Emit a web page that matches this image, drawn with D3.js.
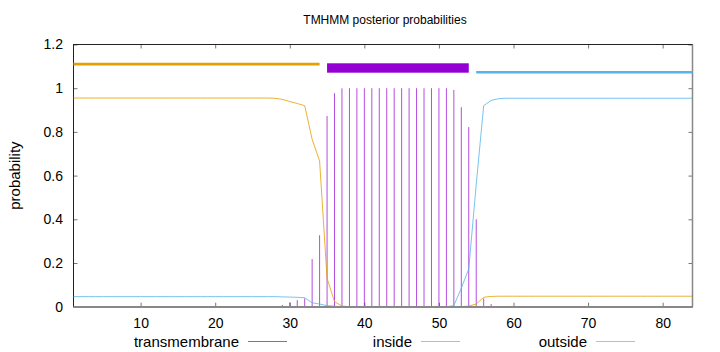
<!DOCTYPE html>
<html>
<head>
<meta charset="utf-8">
<script src="https://cdn.jsdelivr.net/npm/d3@7"></script>
<style>
  body { margin: 0; background: #fff; }
  text { font-family: "Liberation Sans", Arial, sans-serif; fill: #000; }
</style>
</head>
<body>
<div id="chart-area"></div>
<script>
// per-residue posterior probabilities (residues 1..84)
const residues = [
    1, 2, 3, 4, 5, 6, 7, 8, 9, 10, 11, 12, 13, 14, 15, 16, 17, 18, 19, 20,
    21, 22, 23, 24, 25, 26, 27, 28, 29, 30, 31, 32, 33, 34, 35, 36, 37, 38, 39, 40,
    41, 42, 43, 44, 45, 46, 47, 48, 49, 50, 51, 52, 53, 54, 55, 56, 57, 58, 59, 60,
    61, 62, 63, 64, 65, 66, 67, 68, 69, 70, 71, 72, 73, 74, 75, 76, 77, 78, 79, 80,
    81, 82, 83, 84
];

const transmembrane = [
    0, 0, 0, 0, 0, 0, 0, 0, 0, 0, 0, 0, 0, 0, 0, 0, 0, 0, 0, 0,
    0, 0, 0, 0, 0, 0, 0, 0, 0.008, 0.02, 0.03, 0.038, 0.218, 0.327, 0.873, 0.977, 0.999, 1, 1, 1,
    1, 1, 1, 1, 1, 1, 1, 1, 1, 1, 1, 0.992, 0.913, 0.822, 0.40, 0.038, 0.012, 0, 0, 0,
    0, 0, 0, 0, 0, 0, 0, 0, 0, 0, 0, 0, 0, 0, 0, 0, 0, 0, 0, 0,
    0, 0, 0, 0
];

const inside = [
    0.046, 0.046, 0.046, 0.046, 0.046, 0.046, 0.046, 0.046, 0.046, 0.046,
    0.046, 0.046, 0.046, 0.046, 0.046, 0.046, 0.046, 0.046, 0.046, 0.046,
    0.046, 0.046, 0.046, 0.046, 0.046, 0.046, 0.046, 0.046, 0.045, 0.044,
    0.043, 0.041, 0.018, 0.012, 0.005, 0.002, 0, 0, 0, 0,
    0, 0, 0, 0, 0, 0, 0, 0, 0, 0,
    0, 0.005, 0.085, 0.173, 0.56, 0.92, 0.944, 0.952, 0.954, 0.954,
    0.954, 0.954, 0.954, 0.954, 0.954, 0.954, 0.954, 0.954, 0.954, 0.954,
    0.954, 0.954, 0.954, 0.954, 0.954, 0.954, 0.954, 0.954, 0.954, 0.954,
    0.954, 0.954, 0.954, 0.954
];

const outside = [
    0.955, 0.955, 0.955, 0.955, 0.955, 0.955, 0.955, 0.955, 0.955, 0.955,
    0.955, 0.955, 0.955, 0.955, 0.955, 0.955, 0.955, 0.955, 0.955, 0.955,
    0.955, 0.955, 0.955, 0.955, 0.955, 0.955, 0.955, 0.954, 0.949, 0.939,
    0.930, 0.920, 0.766, 0.667, 0.130, 0.023, 0.003, 0, 0, 0,
    0, 0, 0, 0, 0, 0, 0, 0, 0, 0,
    0, 0, 0, 0.003, 0.012, 0.043, 0.047, 0.048, 0.048, 0.048,
    0.048, 0.048, 0.048, 0.048, 0.048, 0.048, 0.048, 0.048, 0.048, 0.048,
    0.048, 0.048, 0.048, 0.048, 0.048, 0.048, 0.048, 0.048, 0.048, 0.048,
    0.048, 0.048, 0.048, 0.048
];

// predicted topology segments
const topoType = ['outside', 'TMhelix', 'inside'];
const topoStart = [1, 35, 55];
const topoEnd = [34, 54, 84];

// ticks
const xTicks = [10, 20, 30, 40, 50, 60, 70, 80];
const yTicks = [0, 0.2, 0.4, 0.6, 0.8, 1, 1.2];

const legendNames = ['transmembrane', 'inside', 'outside'];

const colors = {
    transmembrane: '#9400d3',
    inside: '#56b4e9',
    outside: '#e69f00'
};

// margins
const margin = { left: 73.5, right: 27.5, top: 44.5, bottom: 45.3 };
const W = 720, H = 352;
const width = W - margin.left - margin.right;
const height = H - margin.top - margin.bottom;

const svg = d3.select('#chart-area')
    .append('svg')
        .attr('width', W)
        .attr('height', H);

const g = svg.append('g')
    .attr('transform', `translate(${margin.left}, ${margin.top})`);

const x = d3.scaleLinear().domain([1, 84]).range([0, width]);
const y = d3.scaleLinear().domain([0, 1.2]).range([height, 0]);

// title
svg.append('text')
    .attr('x', margin.left + width / 2 + 2)
    .attr('y', 24)
    .attr('font-size', '12px')
    .attr('text-anchor', 'middle')
    .text('TMHMM posterior probabilities');

// y label
svg.append('text')
    .attr('transform', `translate(20, ${margin.top + height / 2}) rotate(-90)`)
    .attr('font-size', '15px')
    .attr('text-anchor', 'middle')
    .text('probability');

// axes, ticks pointing inward
const xAxis = g.append('g')
    .attr('transform', `translate(0, ${height})`)
    .call(d3.axisBottom(x).tickValues(xTicks).tickSize(-4).tickPadding(11.5));
const xAxisTop = g.append('g')
    .call(d3.axisTop(x).tickValues(xTicks).tickSize(-4).tickFormat(''));
const yAxis = g.append('g')
    .call(d3.axisLeft(y).tickValues(yTicks).tickSize(-4).tickPadding(10.5)
        .tickFormat(d => d3.format('~g')(d)));
const yAxisRight = g.append('g')
    .attr('transform', `translate(${width}, 0)`)
    .call(d3.axisRight(y).tickValues(yTicks).tickSize(-4).tickFormat(''));

[xAxis, xAxisTop, yAxis, yAxisRight].forEach(a => {
    a.select('.domain').remove();
    a.selectAll('line').attr('stroke', '#777');
    a.selectAll('text')
        .attr('font-size', '14px')
        .attr('font-family', '"Liberation Sans", Arial, sans-serif')
        .attr('fill', '#000');
});

// frame
g.append('rect')
    .attr('x', 0).attr('y', 0)
    .attr('width', width).attr('height', height)
    .attr('fill', 'none')
    .attr('stroke', '#222')
    .attr('stroke-width', 1);

// transmembrane impulses
g.selectAll('.impulse')
    .data(residues.map((r, i) => ({ r, v: transmembrane[i] })).filter(d => d.v > 0))
    .enter()
        .append('line')
            .attr('class', 'impulse')
            .attr('x1', d => x(d.r))
            .attr('x2', d => x(d.r))
            .attr('y1', y(0))
            .attr('y2', d => y(d.v))
            .attr('stroke', colors.transmembrane)
            .attr('stroke-opacity', 0.7)
            .attr('stroke-width', 1);

// inside / outside lines
const line = d3.line().x(d => x(d[0])).y(d => y(d[1]));
[['inside', inside], ['outside', outside]].forEach(([name, vals]) => {
    g.append('path')
        .datum(residues.map((r, i) => [r, vals[i]]))
        .attr('d', line)
        .attr('fill', 'none')
        .attr('stroke', colors[name])
        .attr('stroke-opacity', 0.8)
        .attr('stroke-width', 1);
});

// gray baseline and right edge
g.append('line')
    .attr('x1', 0).attr('x2', width)
    .attr('y1', y(0) + 0.3).attr('y2', y(0) + 0.3)
    .attr('stroke', '#888').attr('stroke-width', 2);
g.append('line')
    .attr('x1', width).attr('x2', width)
    .attr('y1', 0).attr('y2', height)
    .attr('stroke', '#888').attr('stroke-width', 1.5);

// topology bar on top
topoType.forEach((t, i) => {
    if (t === 'TMhelix') {
        g.append('rect')
            .attr('x', x(topoStart[i]))
            .attr('y', y(1.114))
            .attr('width', x(topoEnd[i]) - x(topoStart[i]))
            .attr('height', y(1.071) - y(1.114))
            .attr('fill', colors.transmembrane);
    } else {
        const lv = t === 'outside' ? 1.11 : 1.073;
        g.append('line')
            .attr('x1', x(topoStart[i]))
            .attr('x2', x(topoEnd[i]))
            .attr('y1', y(lv))
            .attr('y2', y(lv))
            .attr('stroke', t === 'outside' ? colors.outside : colors.inside)
            .attr('stroke-width', 2.6);
    }
});

// legend
const legendTextRight = [239, 412, 587];
const legend = svg.append('g');
legendNames.forEach((name, i) => {
    legend.append('text')
        .attr('x', legendTextRight[i])
        .attr('y', 346.5)
        .attr('font-size', '15px')
        .attr('text-anchor', 'end')
        .text(name);
    legend.append('line')
        .attr('x1', legendTextRight[i] + 9)
        .attr('x2', legendTextRight[i] + 48)
        .attr('y1', 341.5)
        .attr('y2', 341.5)
        .attr('stroke', colors[name])
        .attr('stroke-opacity', 0.7)
        .attr('stroke-width', 1);
});
</script>
</body>
</html>
